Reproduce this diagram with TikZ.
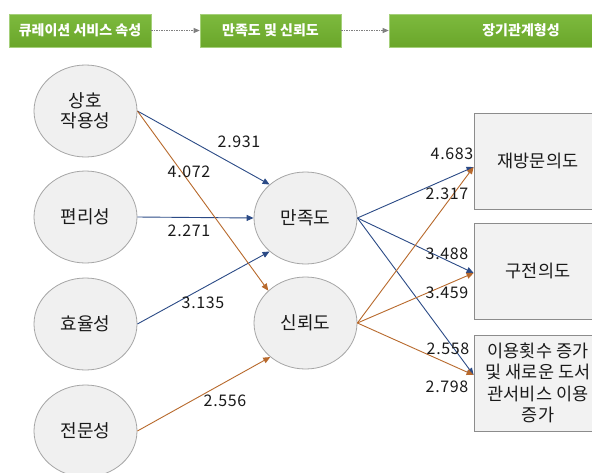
\documentclass[tikz,border=0pt]{standalone}
\usepackage{fontspec}
\setmainfont{Noto Sans CJK KR}
\usetikzlibrary{arrows.meta,shapes.geometric,calc}
\definecolor{navy}{HTML}{2B4A86}
\definecolor{brn}{HTML}{B8692C}
\definecolor{efill}{HTML}{F0F0F0}
\definecolor{edraw}{HTML}{A6A6A6}
\definecolor{bfill}{HTML}{F2F2F2}
\definecolor{bdraw}{HTML}{8C8C8C}
\definecolor{gtop}{HTML}{7DBA3E}
\definecolor{gbot}{HTML}{6AA62A}
\definecolor{gline}{HTML}{A5D07A}
\definecolor{txt}{HTML}{1A1A1A}
\begin{document}
\begin{tikzpicture}[x=1pt,y=-1pt,
  ell/.style={ellipse, draw=edraw, fill=efill, line width=0.8pt, minimum width=103pt, minimum height=92pt, inner sep=0pt, align=center, text=txt, font=\fontsize{18}{20}\selectfont},
  rbox/.style={rectangle, draw=bdraw, fill=bfill, line width=0.8pt, minimum width=128pt, minimum height=96pt, inner sep=0pt, align=center, text=txt, font=\fontsize{17.5}{21.5}\selectfont},
  hbox/.style={rectangle, draw=gline, top color=gtop, bottom color=gbot, line width=0.6pt, minimum height=33pt, inner sep=0pt, text=white, font=\fontsize{14}{16}\selectfont\bfseries},
  hd/.style={draw=gray, line width=0.7pt, dash pattern=on 1.5pt off 1pt, -{Triangle[length=6pt,width=5pt]}},
  na/.style={draw=navy, line width=0.9pt, -{Triangle[length=7pt,width=6pt]}},
  br/.style={draw=brn, line width=0.9pt, -{Triangle[length=7pt,width=6pt]}},
  num/.style={inner sep=0pt, text=txt, font=\fontsize{16}{18}\selectfont\addfontfeatures{LetterSpace=4}}
]
\useasboundingbox (0,0) rectangle (592,472);
\fill[white] (0,0) rectangle (592,472);
\clip (0,0) rectangle (592,472);

% header
\node[hbox, minimum width=142pt] (h1) at (80,30.5) {큐레이션 서비스 속성};
\node[hbox, minimum width=141pt] (h2) at (270.5,30.5) {만족도 및 신뢰도};
\node[hbox, minimum width=264pt] (h3) at (521,30.5) {장기관계형성};
\draw[hd] (h1.east) -- (h2.west);
\draw[hd] (h2.east) -- (h3.west);

% nodes
\node[ell] (e1) at (85.5,111) {상호\\작용성};
\node[ell] (e2) at (85.5,217) {편리성};
\node[ell] (e3) at (85.5,324) {효율성};
\node[ell] (e4) at (85.5,431) {전문성};
\node[ell] (m1) at (305.5,218) {만족도};
\node[ell] (m2) at (305.5,323) {신뢰도};
\node[rbox] (r1) at (538,161) {재방문의도};
\node[rbox] (r2) at (538,271) {구전의도};
\node[rbox] (r3) at (538,383) {이용횟수 증가\\및 새로운 도서\\관서비스 이용\\증가};

% connectors
\draw[na] (e1.east) -- (m1.137);
\draw[na] (e2.east) -- (m1.west);
\draw[na] (e3.east) -- (m1.223);
\draw[br] (e1.east) -- (m2.139);
\draw[br] (e4.east) -- (m2.224);
\draw[na] (m1.east) -- ($(r1.west)+(0,6)$);
\draw[na] (m1.east) -- ($(r2.west)+(0,2)$);
\draw[na] (m1.east) -- ($(r3.west)+(0,-8)$);
\draw[br] (m2.east) -- ($(r1.west)+(0,6)$);
\draw[br] (m2.east) -- ($(r2.west)+(0,2)$);
\draw[br] (m2.east) -- ($(r3.west)+(0,-8)$);

% labels
\node[num] (l1) at (239,142) {2.931};
\node[num] (l2) at (189,172) {4.072};
\node[num] (l3) at (189,231) {2.271};
\node[num] (l4) at (203,303) {3.135};
\node[num] (l5) at (225,401) {2.556};
\node[num] (l6) at (452,154) {4.683};
\node[num] (l7) at (447,194) {2.317};
\node[num] (l8) at (447,254) {3.488};
\node[num] (l9) at (447,293) {3.459};
\node[num] (l10) at (448,349) {2.558};
\node[num] (l11) at (447,387) {2.798};
\end{tikzpicture}
\end{document}
